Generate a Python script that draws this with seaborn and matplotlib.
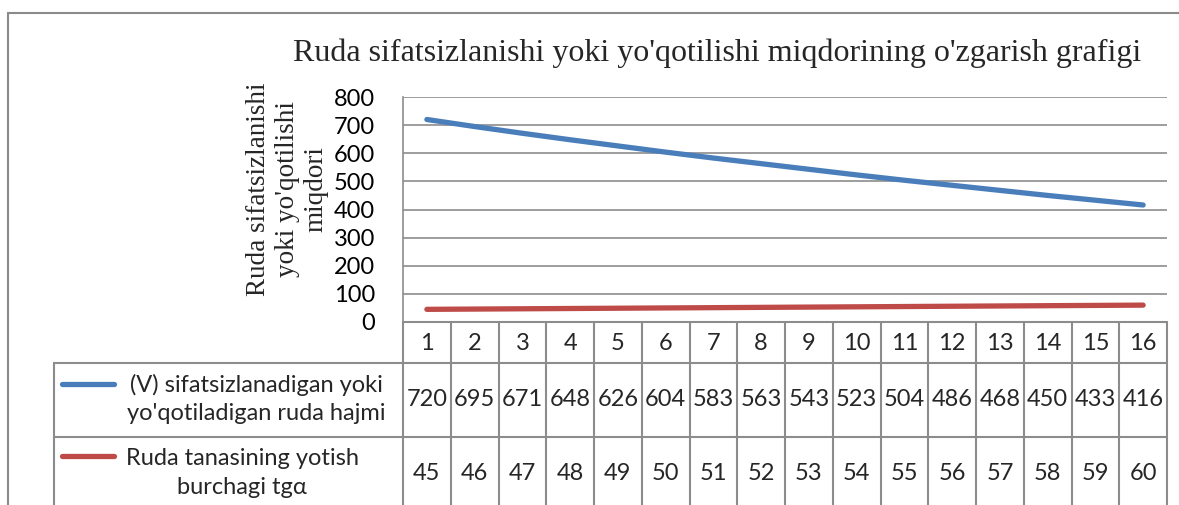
import pandas as pd
import matplotlib.pyplot as plt
import matplotlib.transforms as mtransforms
from matplotlib.lines import Line2D
from matplotlib.patches import Rectangle
import seaborn as sns

# chart data
categories = list(range(1, 17))
volume = [720, 695, 671, 648, 626, 604, 583, 563, 543, 523, 504, 486, 468, 450, 433, 416]
angle = [45, 46, 47, 48, 49, 50, 51, 52, 53, 54, 55, 56, 57, 58, 59, 60]
series_names = ["(V) sifatsizlanadigan yoki\nyo'qotiladigan ruda hajmi",
                "Ruda tanasining yotish\nburchagi tg\u03b1"]
series_colors = ["#4a7ebb", "#be4b48"]
y_ticks = [0, 100, 200, 300, 400, 500, 600, 700, 800]
title = "Ruda sifatsizlanishi yoki yo'qotilishi miqdorining o'zgarish grafigi"
y_label = "Ruda sifatsizlanishi\nyoki yo'qotilishi\nmiqdori"

W, H = 1179, 505
GRID = "#8c8c8c"
SERIF = "Liberation Serif"
SANS = "Lato"
NUM_SIZE = 17


def fy(y):
    # pixel row from top -> figure fraction
    return 1 - y / H


def fx(x):
    return x / W


sns.set_style("white")
plt.rcParams["font.family"] = [SANS, "DejaVu Sans"]

df = pd.DataFrame({
    "pos": list(range(len(categories))) * 2,
    "value": volume + angle,
    "series": [series_names[0]] * len(volume) + [series_names[1]] * len(angle),
})

fig = plt.figure(figsize=(W / 100, H / 100), dpi=100)
fig.patch.set_facecolor("white")

# outer chart border (cropped on the right and bottom)
fig.add_artist(Rectangle((fx(8), fy(600)), 1.2, fy(13) - fy(600),
                         transform=fig.transFigure, fill=False,
                         edgecolor="#8a8a8a", lw=1.5))

ax = fig.add_axes([fx(403), fy(322), fx(1167) - fx(403), fy(97) - fy(322)])
sns.lineplot(data=df, x="pos", y="value", hue="series", hue_order=series_names,
             palette=series_colors, linewidth=3.8, legend=False, ax=ax)
for line in ax.lines:
    line.set_solid_capstyle("round")

ax.set_xlim(-0.5, len(categories) - 0.5)
ax.set_ylim(0, 800)
ax.set_yticks(y_ticks)
ax.set_yticklabels([str(v) for v in y_ticks], fontsize=NUM_SIZE, fontfamily=SANS)
ax.set_xticks([])
ax.set_xlabel("")
ax.set_ylabel("")
ax.yaxis.grid(True, color=GRID, lw=1.2)
ax.set_axisbelow(True)
for side in ["top", "right", "bottom"]:
    ax.spines[side].set_visible(False)
ax.spines["left"].set_color(GRID)
ax.spines["left"].set_linewidth(1.2)
ax.tick_params(axis="y", length=5, color=GRID, width=1.2, pad=15, colors="black")
ax.tick_params(axis="y", color=GRID)

fig.text(fx(717), fy(53), title, ha="center", va="center",
         fontsize=23, fontfamily=SERIF)
fig.text(fx(287), fy(189), y_label, ha="center", va="center", rotation=90,
         fontsize=19.5, fontfamily=SERIF, linespacing=1.2)

# data table below the plot
trans = mtransforms.blended_transform_factory(ax.transData, fig.transFigure)
tcol = "#8c8c8c"
n = len(categories)
for i in range(n + 1):
    fig.add_artist(Line2D([i - 0.5, i - 0.5], [fy(322), 0], transform=trans,
                          color=tcol, lw=1.5))
fig.add_artist(Line2D([fx(403), fx(1167)], [fy(322), fy(322)],
                      transform=fig.transFigure, color=tcol, lw=1.5))
for yy in [363, 437]:
    fig.add_artist(Line2D([fx(54), fx(1167)], [fy(yy), fy(yy)],
                          transform=fig.transFigure, color=tcol, lw=1.5))
fig.add_artist(Line2D([fx(54), fx(54)], [fy(363), 0],
                      transform=fig.transFigure, color=tcol, lw=1.5))

for i, c in enumerate(categories):
    fig.text(i, fy(343), str(c), transform=trans, ha="center", va="center",
             fontsize=NUM_SIZE, fontfamily=SANS)
for i, v in enumerate(volume):
    fig.text(i, fy(400), str(v), transform=trans, ha="center", va="center",
             fontsize=NUM_SIZE, fontfamily=SANS)
for i, v in enumerate(angle):
    fig.text(i, fy(474), str(v), transform=trans, ha="center", va="center",
             fontsize=NUM_SIZE, fontfamily=SANS)

# legend keys and series names in the table
key_y = [384, 456]
text_x = [256, 242]
text_y = [399, 473]
for k in range(2):
    fig.add_artist(Line2D([fx(62), fx(114)], [fy(key_y[k]), fy(key_y[k])],
                          transform=fig.transFigure, color=series_colors[k],
                          lw=3.8, solid_capstyle="round"))
    fig.text(fx(text_x[k]), fy(text_y[k]), series_names[k], ha="center",
             va="center", fontsize=NUM_SIZE, fontfamily=SANS, linespacing=1.45)

fig.savefig("out.png", dpi=100, facecolor="white")
